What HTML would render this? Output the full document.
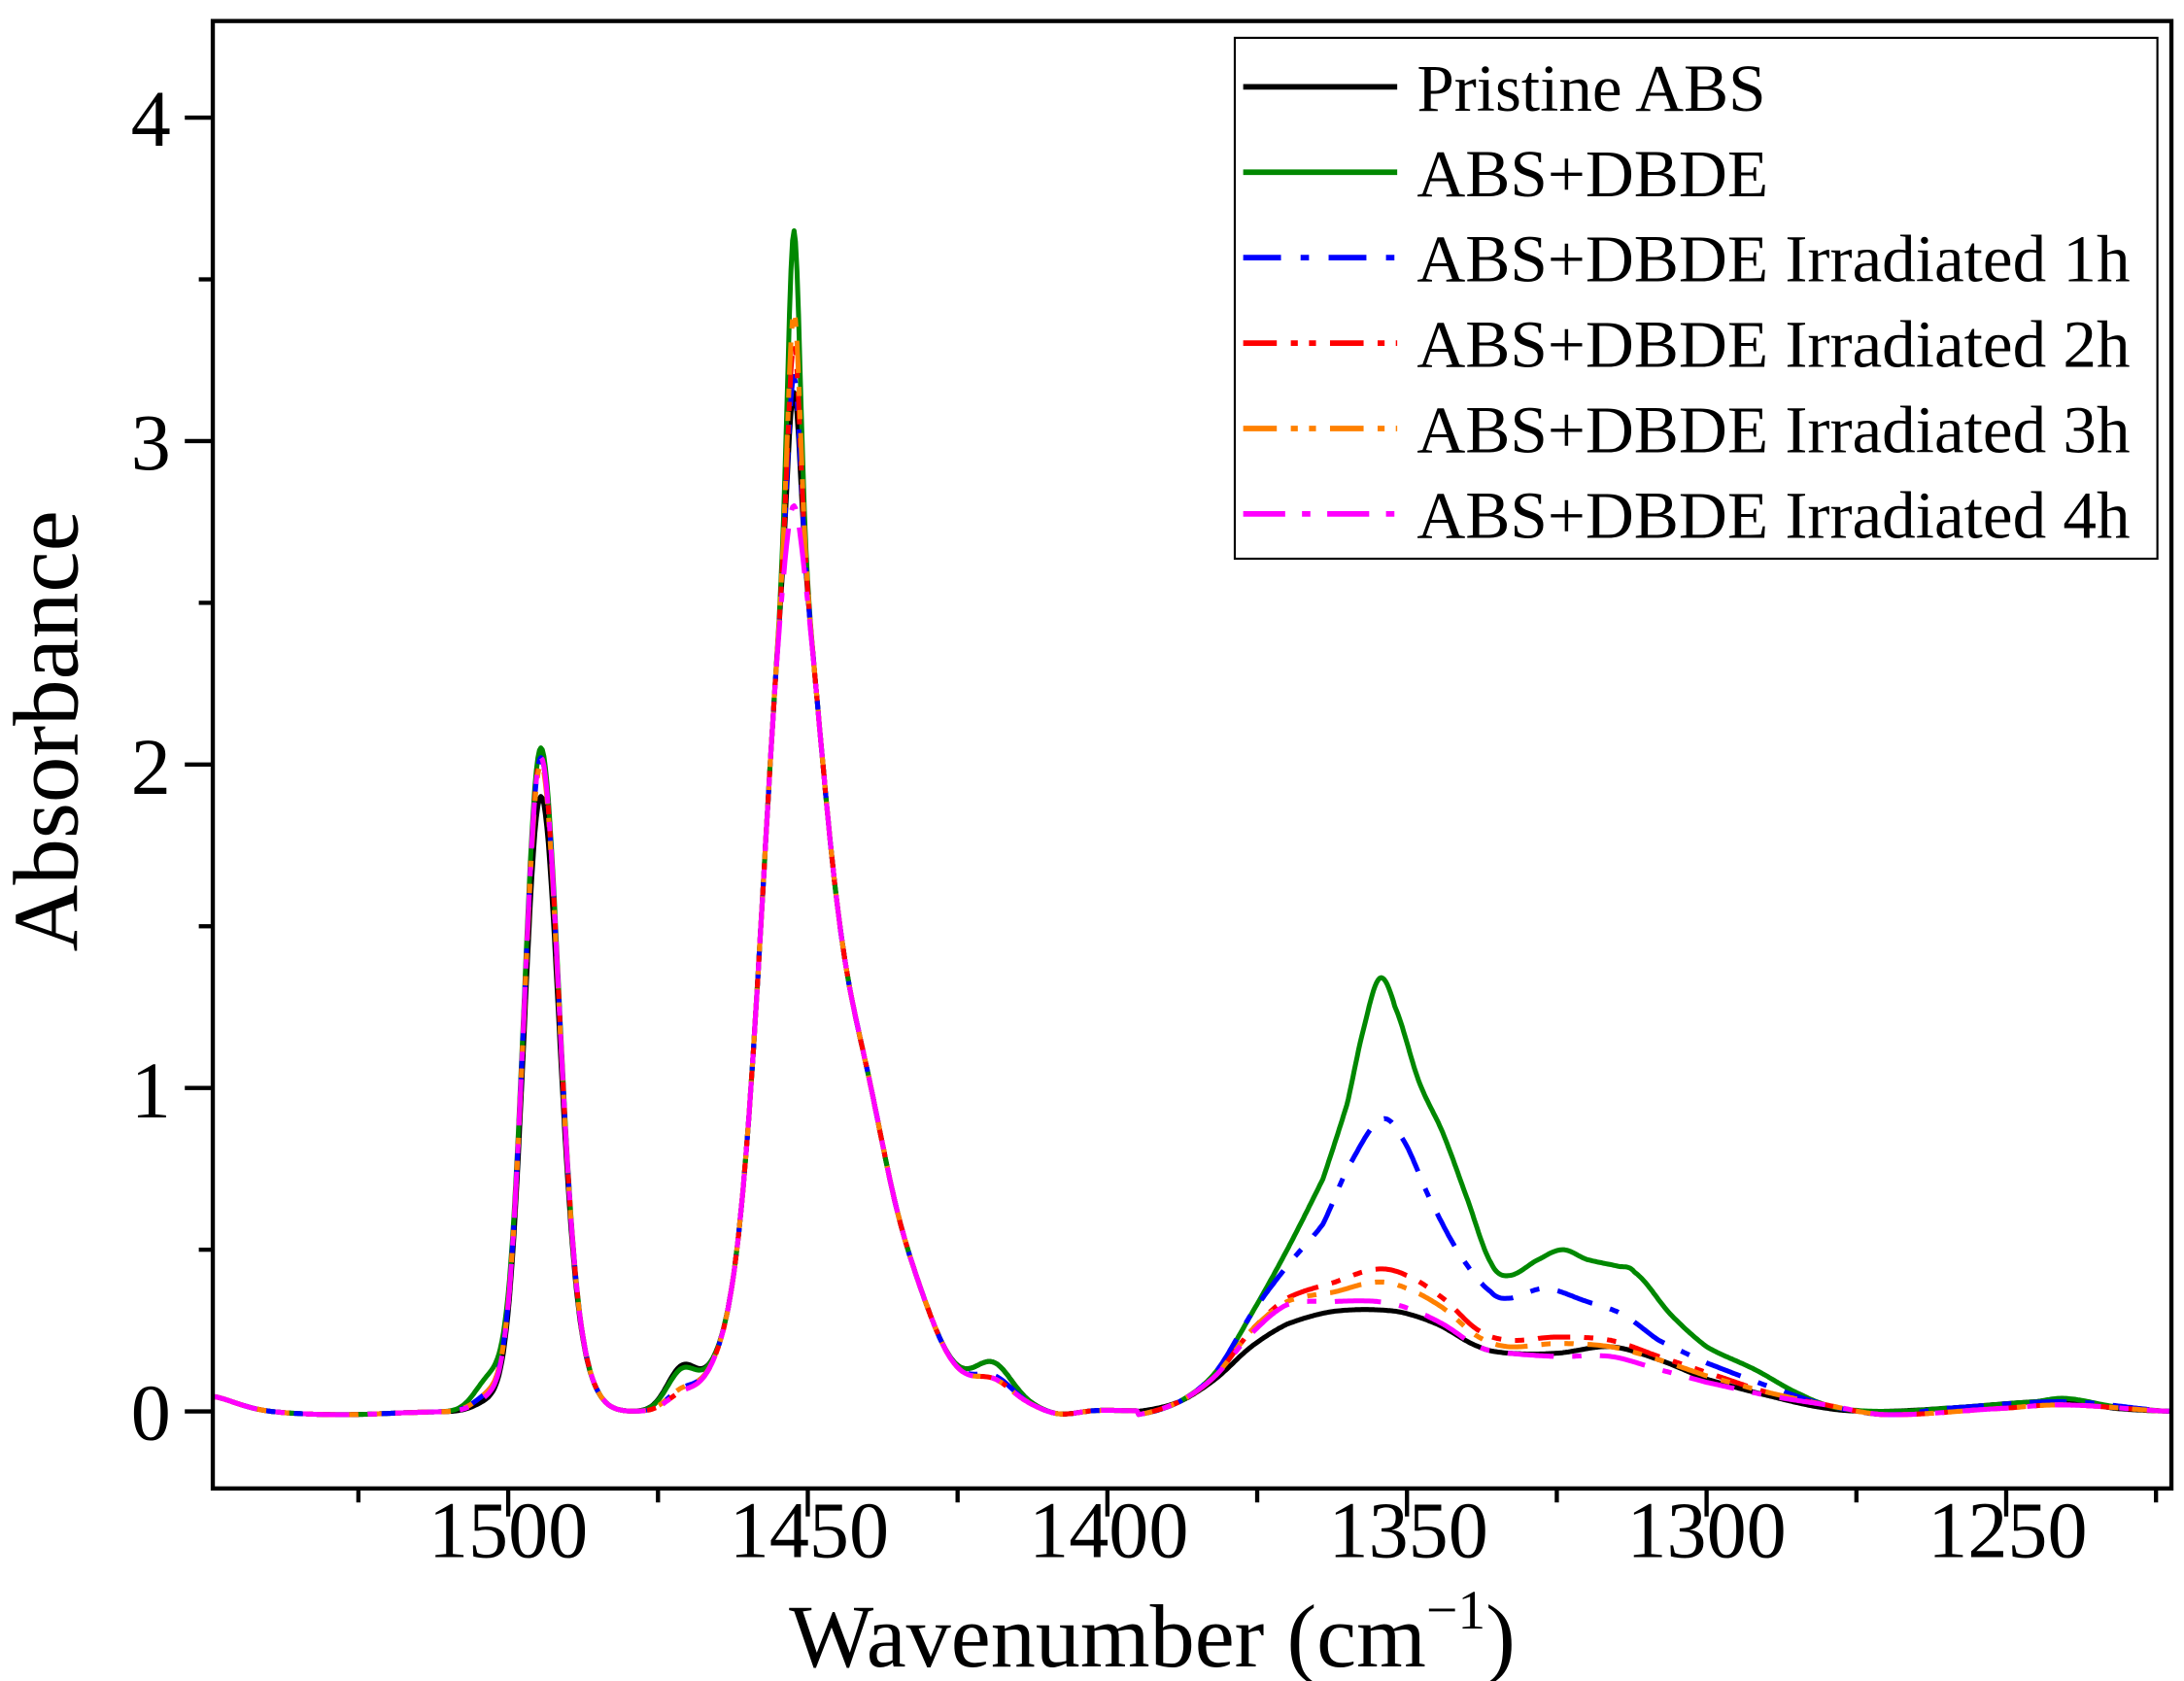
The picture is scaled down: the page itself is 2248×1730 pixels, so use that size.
<!DOCTYPE html>
<html><head><meta charset="utf-8"><style>
html,body{margin:0;padding:0;background:#fff;}
svg{display:block;}
text{font-family:"Liberation Serif","Times New Roman",serif;fill:#000;}
</style></head><body>
<svg id="s" width="2248" height="1730" viewBox="0 0 1560 1200.5" xmlns="http://www.w3.org/2000/svg">
<rect x="0" y="0" width="1560" height="1201" fill="#fff"/>
<g id="curves"></g>
<rect x="152" y="15" width="1399" height="1048" fill="none" stroke="#000" stroke-width="3"/>
<g id="ticks" stroke="#000" stroke-width="3"></g>
<g font-size="57">
<text x="122" y="1028" text-anchor="end">0</text>
<text x="122" y="798" text-anchor="end">1</text>
<text x="122" y="567" text-anchor="end">2</text>
<text x="122" y="335" text-anchor="end">3</text>
<text x="122" y="104" text-anchor="end">4</text>
<text x="363" y="1112" text-anchor="middle">1500</text>
<text x="578" y="1112" text-anchor="middle">1450</text>
<text x="792" y="1112" text-anchor="middle">1400</text>
<text x="1006" y="1112" text-anchor="middle">1350</text>
<text x="1219" y="1112" text-anchor="middle">1300</text>
<text x="1434" y="1112" text-anchor="middle">1250</text>
</g>
<text x="823" y="1190" font-size="64" text-anchor="middle">Wavenumber (cm<tspan dy="-27" font-size="40">−1</tspan><tspan dy="27">)</tspan></text>
<text transform="translate(55,522) rotate(-90)" font-size="66" text-anchor="middle">Absorbance</text>
<rect x="882" y="27" width="659" height="372" fill="#fff" stroke="#000" stroke-width="1.5"/>
<g stroke-width="4" stroke-linecap="butt">
<line x1="888" y1="62" x2="998" y2="62" stroke="#000"/>
<line x1="888" y1="123" x2="998" y2="123" stroke="#008800"/>
<line x1="888" y1="184" x2="998" y2="184" stroke="#0000ff" stroke-dasharray="27 14 6 14"/>
<line x1="888" y1="245" x2="998" y2="245" stroke="#ff0000" stroke-dasharray="24 10 5 8 5 10"/>
<line x1="888" y1="306" x2="998" y2="306" stroke="#ff8000" stroke-dasharray="24 10 5 8 5 10"/>
<line x1="888" y1="367" x2="998" y2="367" stroke="#ff00ff" stroke-dasharray="30 12 6 12"/>
</g>
<g font-size="48">
<text x="1012" y="79">Pristine ABS</text>
<text x="1012" y="140">ABS+DBDE</text>
<text x="1012" y="201">ABS+DBDE Irradiated 1h</text>
<text x="1012" y="262">ABS+DBDE Irradiated 2h</text>
<text x="1012" y="323">ABS+DBDE Irradiated 3h</text>
<text x="1012" y="384">ABS+DBDE Irradiated 4h</text>
</g>
</svg>
<script>
(function(){
function X(w){return 363+(1500-w)*4.28;}
function Y(a){return 1008-a*231;}
var t=document.getElementById('ticks'),h='';
for(var k=0;k<=8;k++){var a=k*0.5;var y=Y(a);var L=(k%2==0)?20:10;h+='<line x1="'+(152-L)+'" y1="'+y+'" x2="152" y2="'+y+'"/>';}
for(var w=1525;w>=1225;w-=25){var x=X(w);var L=(w%50==0)?20:10;h+='<line x1="'+x+'" y1="1063" x2="'+x+'" y2="'+(1063+L)+'"/>';}
t.innerHTML=h;
function g(w,c,s){var d=(w-c)/s;return Math.exp(-d*d/2);}
var S=[
 {c:'#000000',a1:1.88,sp:0.45,sh:0.13,b1420:0.1,g5:0.03,d:'',pts:[[1395,0],[1388,0.03],[1382,0.1],[1376,0.2],[1370,0.27],[1362,0.31],[1352,0.31],[1345,0.27],[1338,0.2],[1333,0.18],[1325,0.18],[1316,0.2],[1308,0.16],[1300,0.1],[1290,0.05],[1280,0.01],[1272,0],[1260,0.01],[1245,0.03],[1240,0.035],[1232,0.01],[1222,0]]},
 {c:'#008800',a1:2.03,sp:0.95,sh:0.12,b1420:0.1,g5:0.1,d:'',pts:[[1395,-0.01],[1388,0.03],[1382,0.12],[1376,0.3],[1370,0.5],[1364,0.72],[1360,0.95],[1357,1.2],[1354.5,1.34],[1352,1.25],[1348,1.02],[1344,0.86],[1340,0.66],[1336,0.46],[1333,0.42],[1328,0.47],[1324,0.5],[1320,0.47],[1315,0.45],[1312,0.43],[1306,0.3],[1300,0.2],[1292,0.13],[1284,0.05],[1278,0.01],[1270,0],[1260,0.01],[1245,0.03],[1240,0.04],[1232,0.015],[1222,0]]},
 {c:'#0000ff',a1:2.0,sp:0.5,sh:0.06,b1420:0.06,g5:0.05,d:'8 4 2 4',pts:[[1395,-0.01],[1388,0.03],[1382,0.12],[1376,0.3],[1370,0.45],[1364,0.58],[1360,0.75],[1354.5,0.9],[1351,0.85],[1346,0.65],[1341,0.48],[1336,0.37],[1333,0.35],[1327,0.38],[1320,0.34],[1314,0.3],[1308,0.22],[1300,0.15],[1290,0.08],[1280,0.02],[1270,-0.01],[1260,0.01],[1240,0.03],[1222,0]]},
 {c:'#ff0000',a1:2.0,sp:0.6,sh:0.05,b1420:0.05,g5:0.05,d:'7 3 2 3 2 3',pts:[[1395,-0.01],[1388,0.03],[1382,0.11],[1376,0.25],[1370,0.35],[1362,0.4],[1355,0.44],[1350,0.42],[1344,0.35],[1338,0.25],[1333,0.22],[1325,0.23],[1316,0.22],[1308,0.17],[1300,0.12],[1290,0.06],[1280,0.02],[1270,-0.01],[1250,0.01],[1240,0.02],[1222,0]]},
 {c:'#ff8000',a1:1.98,sp:0.7,sh:0.06,b1420:0.05,g5:0.05,d:'7 3 2 3 2 3',pts:[[1395,-0.01],[1388,0.03],[1382,0.11],[1376,0.25],[1370,0.34],[1362,0.37],[1355,0.40],[1350,0.38],[1344,0.32],[1338,0.23],[1333,0.2],[1325,0.21],[1316,0.2],[1308,0.16],[1300,0.11],[1290,0.06],[1280,0.02],[1270,-0.01],[1250,0.01],[1240,0.02],[1222,0]]},
 {c:'#ff00ff',a1:2.0,sp:0.1,sh:0.05,b1420:0.05,g5:0.04,d:'10 4 2 4',pts:[[1395,-0.01],[1388,0.03],[1382,0.11],[1376,0.24],[1370,0.33],[1362,0.34],[1355,0.34],[1350,0.32],[1344,0.27],[1338,0.2],[1333,0.18],[1325,0.17],[1316,0.17],[1308,0.13],[1300,0.09],[1290,0.05],[1280,0.02],[1270,-0.01],[1250,0.01],[1240,0.02],[1222,0]]}
];
function cr(pts,w){
 for(var i=0;i<pts.length-1;i++){
  if(w<=pts[i][0]&&w>=pts[i+1][0]){
   var p0=pts[Math.max(0,i-1)],p1=pts[i],p2=pts[i+1],p3=pts[Math.min(pts.length-1,i+2)];
   var u=(p1[0]-w)/(p1[0]-p2[0]);
   var m1=(p2[1]-p0[1])/2,m2=(p3[1]-p1[1])/2;
   var u2=u*u,u3=u2*u;
   return (2*u3-3*u2+1)*p1[1]+(u3-2*u2+u)*m1+(-2*u3+3*u2)*p2[1]+(u3-u2)*m2;
  }
 }
 return 0;
}
function f(s,w){
 if(w<=1395) return cr(s.pts,w);
 var v=0;
 v+=0.05*g(w,1551,5);
 v-=0.01*g(w,1528,8);
 v+=s.g5*g(w,1503,2.5);
 var c1=1494.6;
 v+=s.a1*(w>=c1?g(w,c1,2.8):g(w,c1,3.0));
 v+=0.12*g(w,1489,3);
 var c=1452.4;
 if(w>=c) v+=2.7*g(w,c,5); else {var d=(w-c)/8.5; v+=2.7/(1+d*d)*g(w,c,22);}
 v+=0.28*g(w,1440,3.5)+0.15*g(w,1433,4);
 v+=s.sp*g(w,1452.3,1.0);
 v+=s.sh*g(w,1471,2.5)+0.08*g(w,1465,3);
 v+=s.b1420*g(w,1419,3);
 v-=0.02*g(w,1408,3);
 return v;
}
var G=document.getElementById('curves'),out='';
S.forEach(function(s){
 var p='';
 for(var w=1549.3;w>=1222.7;w-=0.25){
  p+=(p?'L':'M')+X(w).toFixed(1)+','+Y(f(s,w)).toFixed(1);
 }
 out+='<path d="'+p+'" fill="none" stroke="'+s.c+'" stroke-width="3.5" stroke-linejoin="round"'+(s.d?' stroke-dasharray="'+s.d.split(' ').map(function(n){return n*3.3;}).join(' ')+'"':'')+'/>';
});
G.innerHTML=out;
})();
</script>
</body></html>
